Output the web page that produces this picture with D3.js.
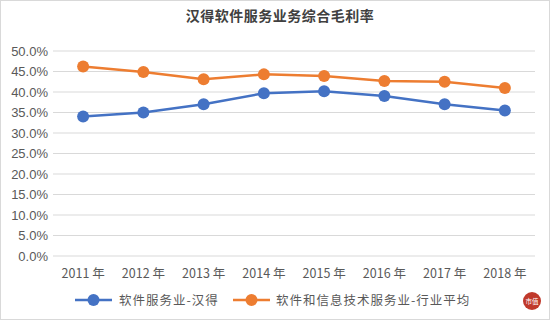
<!DOCTYPE html>
<html><head><meta charset="utf-8">
<script src="https://cdn.jsdelivr.net/npm/d3@7"></script>
<style>body{margin:0;background:#fff}svg{display:block}</style>
</head><body>
<script>
const categories = ["2011 年","2012 年","2013 年","2014 年","2015 年","2016 年","2017 年","2018 年"];
const hande = [34.0, 35.0, 37.0, 39.7, 40.2, 39.0, 37.0, 35.5];
const industry = [46.2, 44.9, 43.1, 44.3, 43.9, 42.7, 42.5, 41.0];
const yTicks = [0,5,10,15,20,25,30,35,40,45,50];
const seriesNames = ["软件服务业-汉得","软件和信息技术服务业-行业平均"];
const colors = ["#4472C4","#ED7D31"];

const W=550,H=320;
const svg=d3.select("body").append("svg").attr("width",W).attr("height",H);
svg.append("rect").attr("x",0.5).attr("y",0.5).attr("width",W-1).attr("height",H-1).attr("fill","#fff").attr("stroke","#d9d9d9");
const font="'Noto Sans CJK SC','DejaVu Sans',sans-serif";
svg.append("text").attr("x",280).attr("y",21).attr("text-anchor","middle")
  .attr("font-family",font).attr("font-size",14).attr("font-weight","bold").attr("fill","#404040")
  .attr("letter-spacing",0.5)
  .text("汉得软件服务业务综合毛利率");

const x=d3.scaleBand().domain(categories).range([53,535]);
const y=d3.scaleLinear().domain([0,50]).range([256,51]);

const g=svg.append("g");
g.selectAll("line.grid").data(yTicks).join("line").attr("class","grid")
  .attr("x1",53).attr("x2",535).attr("y1",d=>y(d)).attr("y2",d=>y(d))
  .attr("stroke","#d9d9d9").attr("stroke-width",1);

const yAxis=svg.append("g").attr("transform","translate(50,0)")
  .call(d3.axisLeft(y).tickValues(yTicks).tickSize(0).tickFormat(d=>d.toFixed(1)+"%"));
yAxis.select(".domain").remove();
yAxis.selectAll("text").attr("font-family","'Liberation Sans',Arial,sans-serif").attr("font-size",13).attr("fill","#595959").attr("x",-2);

const xAxis=svg.append("g").attr("transform","translate(0,256)")
  .call(d3.axisBottom(x).tickSize(0));
xAxis.select(".domain").remove();
xAxis.selectAll("text").attr("font-family",font).attr("font-size",12.5).attr("fill","#595959").attr("dy","1.55em");

const series=[hande,industry];
series.forEach((s,i)=>{
  const line=d3.line().x((d,j)=>x(categories[j])+x.bandwidth()/2).y(d=>y(d));
  svg.append("path").datum(s).attr("d",line).attr("fill","none").attr("stroke",colors[i]).attr("stroke-width",2.5);
  svg.selectAll("circle.s"+i).data(s).join("circle").attr("class","s"+i)
    .attr("cx",(d,j)=>x(categories[j])+x.bandwidth()/2).attr("cy",d=>y(d)).attr("r",6).attr("fill",colors[i]);
});

// legend
const leg=[{x:75,tx:119},{x:233,tx:276}];
leg.forEach((l,i)=>{
  svg.append("line").attr("x1",l.x).attr("x2",l.x+37).attr("y1",300).attr("y2",300).attr("stroke",colors[i]).attr("stroke-width",2.5);
  svg.append("circle").attr("cx",l.x+18.5).attr("cy",300).attr("r",6).attr("fill",colors[i]);
  svg.append("text").attr("x",l.tx).attr("y",304.5).attr("font-family",font).attr("font-size",12.5)
    .attr("letter-spacing",1).attr("fill","#595959").text(seriesNames[i]);
});

// logo
svg.append("circle").attr("cx",532).attr("cy",301).attr("r",9).attr("fill","#c0392b");
svg.append("text").attr("x",532).attr("y",303.5).attr("text-anchor","middle").attr("font-family",font).attr("font-size",6.5).attr("fill","#fff").text("市值");
</script>
</body></html>
